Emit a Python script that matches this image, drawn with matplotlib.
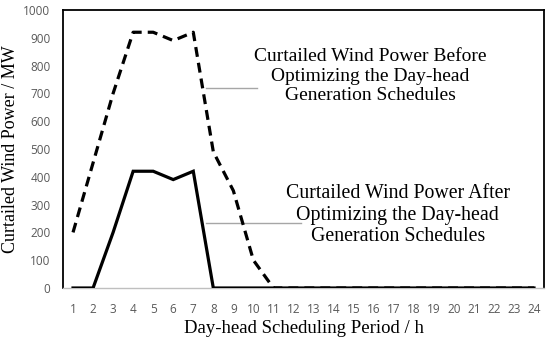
import matplotlib

matplotlib.use("Agg")
import matplotlib.pyplot as plt


periods = list(range(1, 25))
before_opt = [200, 450, 700, 920, 920, 890, 920, 490, 350, 100, 0, 0,
              0, 0, 0, 0, 0, 0, 0, 0, 0, 0, 0, 0]
after_opt = [0, 0, 200, 420, 420, 390, 420, 0, 0, 0, 0, 0,
             0, 0, 0, 0, 0, 0, 0, 0, 0, 0, 0, 0]
y_ticks = list(range(0, 1001, 100))

SERIF = ["Liberation Serif", "DejaVu Serif"]
TICK_GREY = "#595959"
LEADER_GREY = "#a6a6a6"

fig = plt.figure(figsize=(5.5, 3.43), dpi=100)
ax = fig.add_axes([63 / 550, 1 - 288 / 343, 481 / 550, 278 / 343])

ax.plot(periods, before_opt, color="black", lw=2.3, ls=(0, (3.1, 1.9)), zorder=3)
ax.plot(periods, after_opt, color="black", lw=2.3, solid_joinstyle="miter", zorder=4)

ax.set_xlim(0.5, 24.5)
ax.set_ylim(0, 1000)
ax.set_xticks(periods)
ax.set_yticks(y_ticks)
ax.tick_params(length=0, labelsize=8.5, labelcolor=TICK_GREY)
ax.tick_params(axis="x", pad=11)
ax.tick_params(axis="y", pad=9)
for lbl in ax.get_xticklabels() + ax.get_yticklabels():
    lbl.set_family(["Open Sans", "DejaVu Sans"])

for side in ("left", "top", "right"):
    ax.spines[side].set_color("black")
    ax.spines[side].set_linewidth(1.3)
ax.spines["bottom"].set_color("#bfbfbf")
ax.spines["bottom"].set_linewidth(1.0)

ax.set_ylabel("Curtailed Wind Power / MW", fontsize=13, family=SERIF, labelpad=3)
ax.set_xlabel("Day-head Scheduling Period / h", fontsize=13.5, family=SERIF, labelpad=3)

# leader lines + callout labels
ax.plot([7.64, 10.18], [719, 719], color=LEADER_GREY, lw=1, zorder=2)
ax.plot([7.64, 12.38], [234, 234], color=LEADER_GREY, lw=1, zorder=2)
ax.text(15.85, 762, "Curtailed Wind Power Before\nOptimizing the Day-head\nGeneration Schedules",
        ha="center", va="center", fontsize=14, family=SERIF, linespacing=1.2)
ax.text(17.2, 262, "Curtailed Wind Power After\nOptimizing the Day-head\nGeneration Schedules",
        ha="center", va="center", fontsize=14.3, family=SERIF, linespacing=1.2)

fig.savefig("out.png", dpi=100)
